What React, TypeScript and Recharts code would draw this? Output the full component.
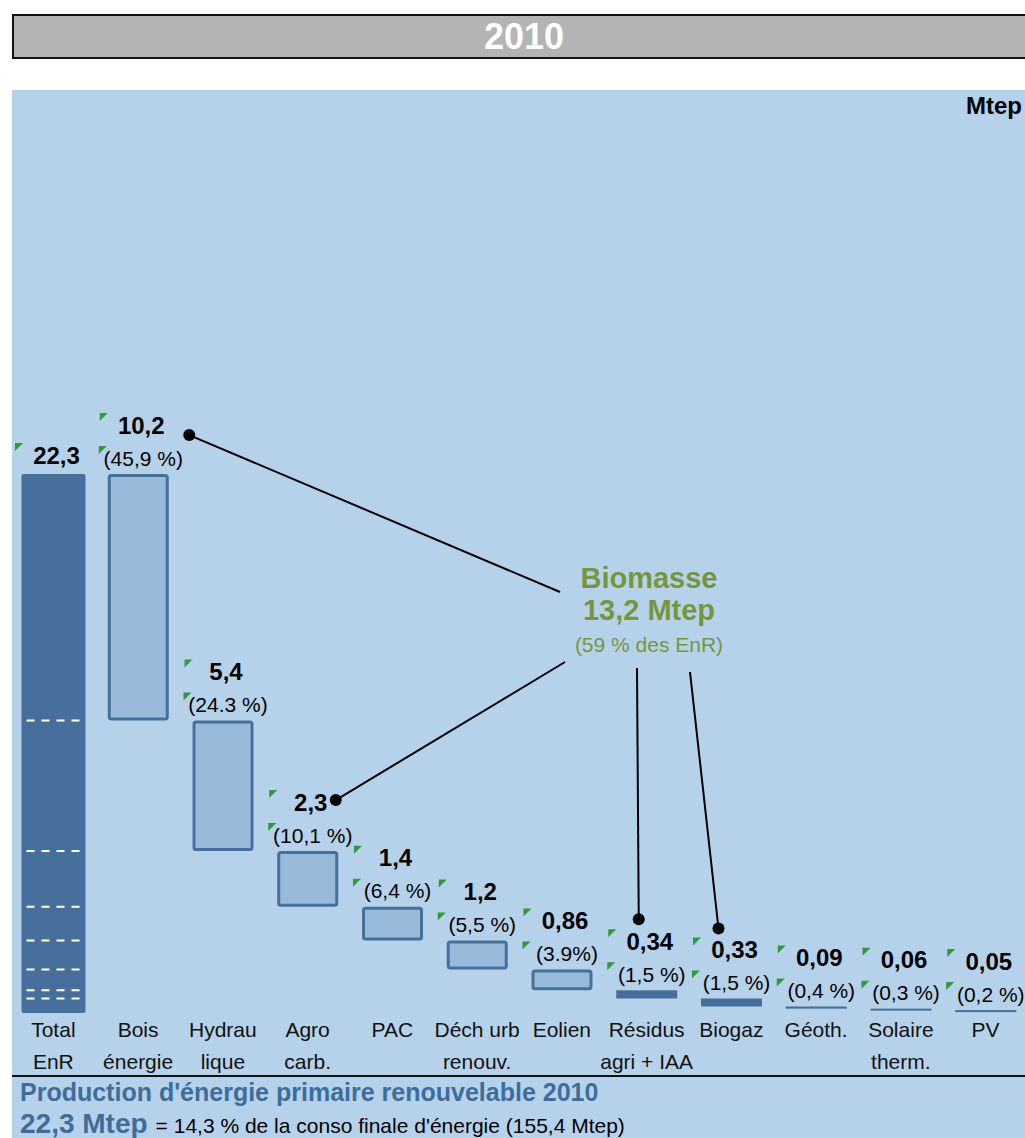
import React from 'react';
import { BarChart, Bar, XAxis, YAxis, LabelList } from 'recharts';

// Production d'énergie primaire renouvelable 2010 (Mtep)
const categories = [
  'Total|EnR', 'Bois|énergie', 'Hydrau|lique', 'Agro|carb.', 'PAC|', 'Déch urb|renouv.',
  'Eolien|', 'Résidus|agri + IAA', 'Biogaz|', 'Géoth.|', 'Solaire|therm.', 'PV|',
];
const production = [22.3, 10.2, 5.4, 2.3, 1.4, 1.2, 0.86, 0.34, 0.33, 0.09, 0.06, 0.05];
const valueLabels = ['22,3', '10,2', '5,4', '2,3', '1,4', '1,2', '0,86', '0,34', '0,33', '0,09', '0,06', '0,05'];
const shareLabels = ['', '(45,9 %)', '(24.3 %)', '(10,1 %)', '(6,4 %)', '(5,5 %)', '(3.9%)', '(1,5 %)', '(1,5 %)', '(0,4 %)', '(0,3 %)', '(0,2 %)'];

const DARK = '#46709b';
const LIGHT = '#97bada';
const PANEL = '#b6d2eb';
const GREEN = '#76963e';
const FOOT = '#3e6d9c';
const FONT = '"Liberation Sans", Arial, sans-serif';

// waterfall: each source hangs under the previous one, the total stands on the floor
const bases: number[] = [];
let level = production[0];
production.forEach((v, i) => {
  if (i === 0) { bases.push(0); return; }
  level -= v;
  bases.push(level);
});

const data = categories.map((name, i) => ({
  name,
  range: i === 0 ? [0, production[0]] : [bases[i], bases[i] + production[i]],
}));

// biomass connectors: dot offset from bar centre / value label, target near the callout
const connectors: Record<number, { dx: number; dy: number; tx: number; ty: number }> = {
  1: { dx: 51, dy: 10, tx: 560, ty: 592 },
  3: { dx: 28, dy: -2, tx: 565, ty: 662 },
  7: { dx: -8, dy: -22, tx: 637, ty: 668 },
  8: { dx: -13, dy: -21, tx: 690, ty: 672 },
};

const StepBar = (props: any) => {
  const { x, y, width, index } = props;
  const h = Math.abs(props.height);
  const top = Math.min(y, y + props.height);
  if (index === 0) {
    const marks = bases.slice(1, 8);
    const bx = x - 1.5;
    const bw = width + 3;
    return (
      <g>
        <rect x={bx} y={top} width={bw} height={h} rx={2} fill={DARK} />
        {marks.map((v, k) => {
          const ly = top + h * (1 - v / production[0]);
          return (
            <line key={k} x1={bx + 5} x2={bx + bw - 5} y1={ly} y2={ly}
              stroke="#fff" strokeWidth={2} strokeDasharray="8 7" />
          );
        })}
      </g>
    );
  }
  if (h < 10) {
    return <rect x={x} y={top} width={width} height={Math.max(h, 2)} fill={DARK} />;
  }
  return (
    <rect x={x + 1.5} y={top + 1.5} width={width - 3} height={h - 3} rx={2}
      fill={LIGHT} stroke={DARK} strokeWidth={3} />
  );
};

const Corner = ({ x, y }: { x: number; y: number }) => (
  <polygon points={`${x},${y} ${x + 8},${y} ${x},${y + 8}`} fill="#2f9a3a" />
);

const renderLabel = (props: any) => {
  const { x, y, width, index } = props;
  const top = Math.min(y, y + props.height);
  const cx = x + width / 2;
  const vy = index === 0 ? top - 19 : top - 49;
  const py = top - 16;
  const c = connectors[index];
  return (
    <g>
      <Corner x={x - 8} y={vy - 12} />
      <text x={cx + 3} y={vy} textAnchor="middle" dominantBaseline="central"
        fontSize={24} fontWeight="bold" fill="#000" fontFamily={FONT}>
        {valueLabels[index]}
      </text>
      {shareLabels[index] && (
        <g>
          <Corner x={x - 9} y={py - 12} />
          <text x={cx + 5} y={py} textAnchor="middle" dominantBaseline="central"
            fontSize={21} fill="#000" fontFamily={FONT}>
            {shareLabels[index]}
          </text>
        </g>
      )}
      {c && (
        <g>
          <line x1={cx + c.dx} y1={vy + c.dy} x2={c.tx} y2={c.ty} stroke="#000" strokeWidth={2} />
          <circle cx={cx + c.dx} cy={vy + c.dy} r={6} fill="#000" />
        </g>
      )}
    </g>
  );
};

const CategoryTick = (props: any) => {
  const { x, y, payload } = props;
  const [a, b] = String(payload.value).split('|');
  return (
    <g>
      <text x={x} y={y + 16} textAnchor="middle" fontSize={21} fill="#111" fontFamily={FONT}>{a}</text>
      {b && <text x={x} y={y + 48} textAnchor="middle" fontSize={21} fill="#111" fontFamily={FONT}>{b}</text>}
    </g>
  );
};

export default function App() {
  return (
    <div style={{ position: 'absolute', left: 0, top: 0, width: 1025, height: 1138, overflow: 'hidden', background: '#fff', fontFamily: FONT }}>
      <div style={{
        position: 'absolute', left: 12, top: 14, width: 1020, height: 41, background: '#b3b4b6',
        border: '2px solid #111', color: '#fff', fontWeight: 'bold', fontSize: 36, lineHeight: '41px', textAlign: 'center',
      }}>2010</div>
      <div style={{ position: 'absolute', left: 12, top: 90, right: 0, bottom: 0, background: PANEL }} />
      <div style={{ position: 'absolute', right: 3, top: 92, fontWeight: 'bold', fontSize: 24, lineHeight: '28px' }}>Mtep</div>

      <div style={{ position: 'absolute', left: 0, top: 0 }}>
        <BarChart width={1028} height={1138} data={data} margin={{ top: 143, right: 0, left: 11, bottom: 65 }} barSize={61}>
          <YAxis hide domain={[0, 36]} />
          <XAxis dataKey="name" axisLine={false} tickLine={false} interval={0} height={60} tick={<CategoryTick />} />
          <Bar dataKey="range" isAnimationActive={false} shape={<StepBar />}>
            <LabelList dataKey="range" content={renderLabel} />
          </Bar>
        </BarChart>
      </div>

      <div style={{ position: 'absolute', left: 549, top: 562, width: 200, textAlign: 'center', color: GREEN }}>
        <div style={{ fontWeight: 'bold', fontSize: 29, lineHeight: '32px' }}>Biomasse</div>
        <div style={{ fontWeight: 'bold', fontSize: 29, lineHeight: '32px' }}>13,2 Mtep</div>
        <div style={{ fontSize: 21, lineHeight: '38px' }}>(59 % des EnR)</div>
      </div>

      <div style={{ position: 'absolute', left: 12, right: 0, top: 1075, height: 2, background: '#111' }} />
      <div style={{ position: 'absolute', left: 20, top: 1078, color: FOOT, fontWeight: 'bold', fontSize: 25, lineHeight: '28px', whiteSpace: 'nowrap' }}>
        Production d'énergie primaire renouvelable 2010
      </div>
      <div style={{ position: 'absolute', left: 20, top: 1107, fontSize: 21, lineHeight: '34px', whiteSpace: 'nowrap' }}>
        <span style={{ color: FOOT, fontWeight: 'bold', fontSize: 28 }}>22,3 Mtep</span>
        <span style={{ color: '#000', marginLeft: 8 }}>= 14,3 % de la conso finale d'énergie (155,4 Mtep)</span>
      </div>
    </div>
  );
}
